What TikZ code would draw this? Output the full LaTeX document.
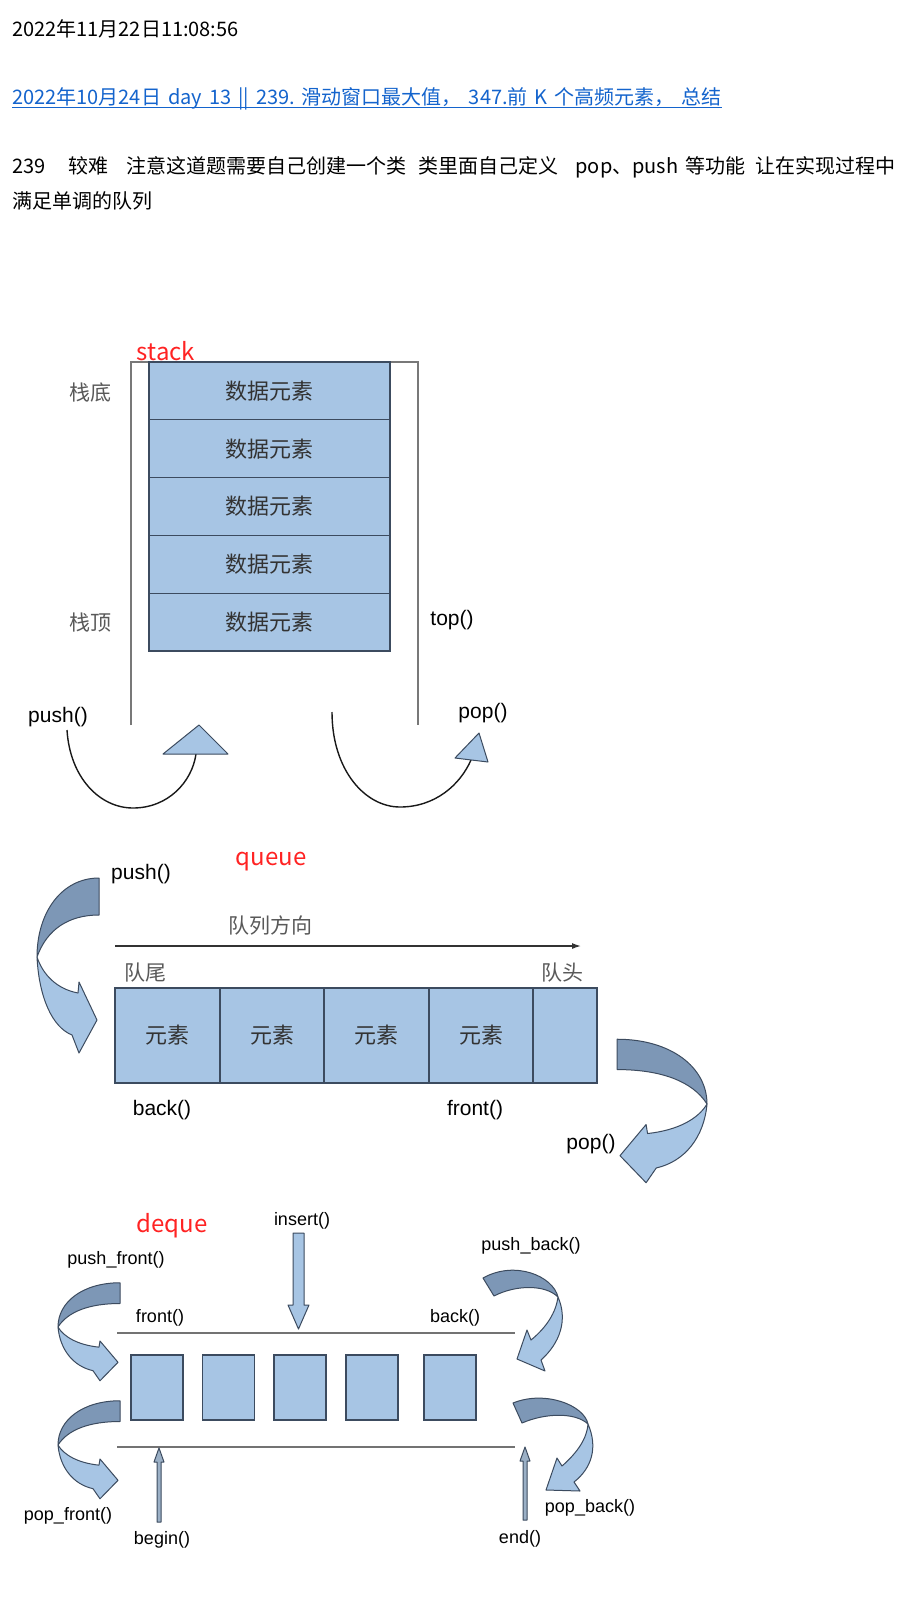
\documentclass[tikz,border=0pt]{standalone}
\usepackage{fontspec}
\setmainfont{Noto Sans CJK SC}
\newfontfamily\arialfont{Liberation Sans}
\usetikzlibrary{arrows.meta}

\definecolor{cellblue}{RGB}{167,197,228}
\definecolor{bandblue}{RGB}{125,151,182}
\definecolor{edgeblue}{RGB}{60,75,95}
\definecolor{wallgray}{RGB}{120,120,120}
\definecolor{linkblue}{RGB}{20,100,205}
\definecolor{notered}{RGB}{255,35,35}

\tikzset{
  cell/.style={draw=edgeblue, fill=cellblue, line width=1.2pt, inner sep=0, text=black!80,
    font=\fontsize{22}{26}\selectfont},
  wall/.style={draw=wallgray, line width=1.5pt},
  rail/.style={draw=black!55, line width=1.8pt},
  band/.style={draw=edgeblue, line width=1pt, line join=round},
  arcline/.style={draw=black!90, line width=1.4pt},
  fnlabel/.style={font=\arialfont\fontsize{21}{24}\selectfont, text=black, inner sep=0},
  smallfn/.style={font=\arialfont\fontsize{18}{21}\selectfont, text=black, inner sep=0},
  cnlabel/.style={font=\fontsize{21}{24}\selectfont, text=black!65, inner sep=0},
  redlabel/.style={font=\fontsize{24}{28}\selectfont, text=notered, inner sep=0},
  bodytext/.style={font=\fontsize{20}{24}\selectfont, anchor=west, inner sep=0},
  % curved ribbon arrow, tail up-right, head down-right
  bentarrow/.pic={
    \filldraw[band, fill=bandblue] (62,-79) .. controls (25,-79) and (0,-45) .. (0,0)
      .. controls (10,-28) and (32,-42) .. (62,-42) -- cycle;
    \filldraw[band, fill=cellblue] (0,0) .. controls (2,40) and (15,70) .. (35,78)
      -- (42,96) -- (60,63) -- (42,25) -- (41,36) .. controls (20,32) and (6,18) .. (0,0) -- cycle;
  }
}

\begin{document}
\begin{tikzpicture}[x=1pt, y=-1pt]
    \useasboundingbox (0,0) rectangle (912,1619);
    \fill[white] (0,0) rectangle (912,1619);

    % header text
    \node[bodytext] (stamp) at (12,29) {2022年11月22日11:08:56};
    \node[bodytext, text=linkblue] (link) at (12,99) {2022年10月24日\hspace{7pt}day\hspace{7pt}13\hspace{7pt}||\hspace{7pt}239.\hspace{7pt}滑动窗口最大值，\hspace{7pt}347.前\hspace{7pt}K\hspace{7pt}个高频元素，\hspace{7pt}总结};
    \draw[linkblue, line width=1pt] ([yshift=-3pt]link.base west) -- ([yshift=-3pt]link.base east);
    \node[bodytext] (note1) at (12,167) {239\hspace{23pt}较难\hspace{18pt}注意这道题需要自己创建一个类\hspace{12pt}类里面自己定义\hspace{17pt}pop、push\hspace{7pt}等功能\hspace{10pt}让在实现过程中};
    \node[bodytext] (note2) at (12,201) {满足单调的队列};

    % stack
    \node[redlabel] (stacktitle) at (166,351) {stack};
    \draw[wall] (131,725) -- (131,362) -- (418,362) -- (418,725);
    \foreach \i in {0,...,4}
        \node[cell, minimum width=241pt, minimum height=57.8pt] (cell\i) at (269.5,{390.9+57.8*\i}) {数据元素};
    \node[cnlabel] (bottomlbl) at (90,393) {栈底};
    \node[cnlabel] (toplbl) at (90,623) {栈顶};
    \node[fnlabel] (topfn) at (452,620) {top()};
    \node[fnlabel] (pushfn) at (58,717) {push()};
    \node[fnlabel] (popfn) at (483,713) {pop()};
    \coordinate (pushstart) at (67,730);
    \coordinate (pushend) at (196,754);
    \coordinate (popstart) at (332,712);
    \coordinate (popend) at (471,760);
    \draw[arcline] (pushstart) .. controls (70,778) and (100,808) .. (133,808)
        .. controls (168,808) and (192,782) .. (pushend);
    \draw[arcline] (popstart) .. controls (332,770) and (365,807) .. (400,807)
        .. controls (435,807) and (460,785) .. (popend);
    \filldraw[band, fill=cellblue] (199,725) -- (228,754) -- (163,754) -- cycle;
    \filldraw[band, fill=cellblue] (479,733) -- (488,762) -- (455,758) -- cycle;

    % queue
    \node[redlabel] (queuetitle) at (271,862) {queue};
    \node[fnlabel] (qpush) at (141,874) {push()};
    \node[cnlabel] (qdir) at (270,925) {队列方向};
    \coordinate (dirstart) at (115,946);
    \coordinate (dirend) at (581,946);
    \draw[-{Latex[length=9pt,width=6pt]}, line width=1.3pt, black!80] (dirstart) -- (dirend);
    \node[cnlabel] (qtail) at (145,973) {队尾};
    \node[cnlabel] (qhead) at (562,973) {队头};
    \foreach \cx/\w/\t [count=\k] in {167.5/105/元素, 272/104/元素, 376.5/105/元素, 481/104/元素, 565/64/{}}
        \node[cell, minimum width=\w pt, minimum height=95pt] (q\k) at (\cx,1035.5) {\t};
    \node[fnlabel] (qback) at (162,1110) {back()};
    \node[fnlabel] (qfront) at (475,1110) {front()};
    \node[fnlabel] (qpop) at (591,1144) {pop()};
    \pic at (37,957) {bentarrow};
    \pic[xscale=-1.45, yscale=0.82] at (707,1104) {bentarrow};

    % deque
    \node[redlabel] (dequetitle) at (172,1226) {deque};
    \node[smallfn] (dinsert) at (302,1221) {insert()};
    \node[smallfn] (dpushf) at (116,1260) {push\_front()};
    \node[smallfn] (dpushb) at (531,1246) {push\_back()};
    \node[smallfn] (dfront) at (160,1318) {front()};
    \node[smallfn] (dback) at (455,1318) {back()};
    \draw[rail] (117,1333) -- (515,1333);
    \draw[rail] (117,1447) -- (515,1447);
    \foreach \cx [count=\k] in {157,228.5,300,372,450}
        \node[cell, minimum width=52pt, minimum height=65pt] (d\k) at (\cx,1387.5) {};
    \filldraw[band, fill=cellblue] (293,1233) -- (304,1233) -- (304,1305) -- (309,1305)
        -- (298.5,1329) -- (288,1305) -- (293,1305) -- cycle;
    \filldraw[band, fill=cellblue!70!gray] (159,1448) -- (164,1462) -- (161,1462) -- (161,1522)
        -- (157,1522) -- (157,1462) -- (154,1462) -- cycle;
    \filldraw[band, fill=cellblue!70!gray] (525,1447) -- (530,1461) -- (527,1461) -- (527,1520)
        -- (523,1520) -- (523,1461) -- (520,1461) -- cycle;
    \pic[yscale=0.56] at (58,1327) {bentarrow};
    \pic[yscale=0.56] at (58,1445) {bentarrow};
    % right side ribbons
    \filldraw[band, fill=bandblue] (483,1278) -- (494,1296) .. controls (515,1285) and (545,1284) .. (558,1297)
        .. controls (553,1276) and (515,1260) .. (483,1278) -- cycle;
    \filldraw[band, fill=cellblue] (558,1297) .. controls (568,1320) and (560,1343) .. (541,1360)
        -- (545,1371) -- (517,1359) -- (527,1330) -- (531,1340) .. controls (547,1327) and (556,1312) .. (558,1297) -- cycle;
    \filldraw[band, fill=bandblue] (513,1403) -- (522,1423) .. controls (545,1413) and (575,1412) .. (588,1424)
        .. controls (584,1405) and (545,1390) .. (513,1403) -- cycle;
    \filldraw[band, fill=cellblue] (588,1424) .. controls (598,1447) and (592,1468) .. (574,1482)
        -- (580,1491) -- (546,1490) -- (557,1458) -- (562,1466) .. controls (578,1452) and (587,1438) .. (588,1424) -- cycle;
    \node[smallfn] (dpopf) at (68,1516) {pop\_front()};
    \node[smallfn] (dbegin) at (162,1540) {begin()};
    \node[smallfn] (dend) at (520,1539) {end()};
    \node[smallfn] (dpopb) at (590,1508) {pop\_back()};
\end{tikzpicture}
\end{document}
